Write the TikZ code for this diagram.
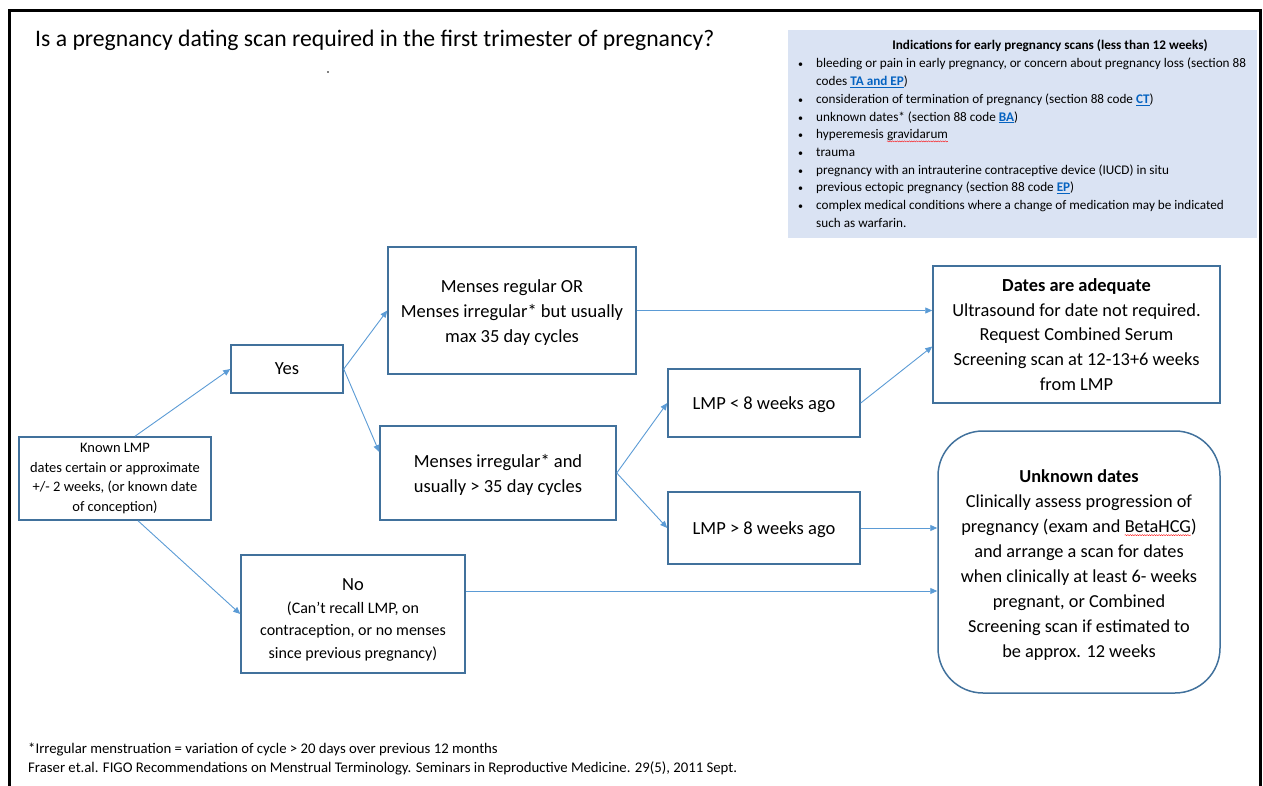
\documentclass[tikz,border=0pt]{standalone}
\usepackage{fontspec}
\setmainfont{Carlito}
\usetikzlibrary{arrows.meta,calc,decorations.pathmorphing}
\definecolor{boxblue}{HTML}{41719C}
\definecolor{arrblue}{HTML}{5B9BD5}
\definecolor{infofill}{HTML}{DAE3F3}
\definecolor{linkblue}{HTML}{0563C1}
\newcommand\lnk[1]{\textcolor{linkblue}{\underline{\textbf{#1}}}}
\newcommand\squig[1]{\tikz[baseline=(sq.base), sharp corners]{\node[draw=none, fill=none, inner sep=0pt, outer sep=0pt, minimum width=0pt, minimum height=0pt, sharp corners, align=left] (sq) {#1};
  \draw[red, sharp corners, line width=0.35pt, decorate, decoration={snake, amplitude=0.6pt, segment length=2.4pt}] ([yshift=-2.6pt]sq.base west) -- ([yshift=-2.6pt]sq.base east);}}
\newcommand\bul{{\fontsize{10}{10}\selectfont\textbullet}}
\tikzset{
  box/.style={draw=boxblue, line width=1.5pt, align=center, inner sep=0pt},
  conn/.style={draw=arrblue, line width=0.9pt, -{Triangle[length=7pt,width=6pt]}},
  big/.style={font=\fontsize{18.5}{25}\selectfont},
  plain/.style={inner sep=0pt, align=left},
}
\begin{document}
\begin{tikzpicture}[x=1pt,y=-1pt]
\useasboundingbox (0,0) rectangle (1263,786);
% frame
\draw[line width=3pt] (9.5,790) -- (9.5,11) -- (1260,11) -- (1260,790);
% title
\node[plain, anchor=base west, font=\fontsize{23.7}{28}\selectfont] (title) at (35,47)
  {Is a pregnancy dating scan required in the first trimester of pregnancy?};
\fill (328,72) circle (0.8pt);
% info box
\node[fill=infofill, minimum width=469pt, minimum height=208pt, inner sep=0pt] (info) at (1022.5,134) {};
\node[plain, anchor=base, font=\fontsize{13.2}{17.7}\selectfont\bfseries] (infotitle) at (1050,50)
  {Indications for early pregnancy scans (less than 12 weeks)};
\node[plain, anchor=base west, font=\fontsize{13.2}{17.7}\selectfont] (infolist) at (798,68)
  {\renewcommand\arraystretch{1}\begin{tabular}[t]{@{}p{18pt}@{}l@{}}
  \bul & bleeding or pain in early pregnancy, or concern about pregnancy loss (section 88\\
   & codes \lnk{TA and EP})\\
  \bul & consideration of termination of pregnancy (section 88 code \lnk{CT})\\
  \bul & unknown dates* (section 88 code \lnk{BA})\\
  \bul & hyperemesis \squig{gravidarum}\\
  \bul & trauma\\
  \bul & pregnancy with an intrauterine contraceptive device (IUCD) in situ\\
  \bul & previous ectopic pregnancy (section 88 code \lnk{EP})\\
  \bul & complex medical conditions where a change of medication may be indicated\\
   & such as warfarin.
  \end{tabular}};
% flow boxes
\node[box, minimum width=192pt, minimum height=83pt, font=\fontsize{14.5}{19.7}\selectfont] (lmp) at (115,478.5)
  {Known LMP\\dates certain or approximate\\+/- 2 weeks, (or known date\\of conception)};
\node[box, big, minimum width=112pt, minimum height=48pt] (yes) at (287,369) {Yes};
\node[box, big, minimum width=248pt, minimum height=127pt] (mreg) at (512,310.5)
  {\rule{0pt}{17pt}Menses regular OR\\Menses irregular* but usually\\max 35 day cycles};
\node[box, big, minimum width=236pt, minimum height=94pt] (mirr) at (498,473)
  {\rule{0pt}{17pt}Menses irregular* and\\usually > 35 day cycles};
\node[box, minimum width=224pt, minimum height=118pt, font=\fontsize{16}{22.5}\selectfont] (no) at (353,614)
  {{\fontsize{18.5}{22.5}\selectfont\rule{0pt}{24pt}No}\\(Can’t recall LMP, on\\contraception, or no menses\\since previous pregnancy)};
\node[box, big, minimum width=192pt, minimum height=68pt] (lt8) at (764,403) {\rule{0pt}{17pt}LMP < 8 weeks ago};
\node[box, big, minimum width=192pt, minimum height=72pt] (gt8) at (764,528) {\rule{0pt}{17pt}LMP > 8 weeks ago};
\node[box, minimum width=287pt, minimum height=137pt, font=\fontsize{18.4}{24.75}\selectfont] (adeq) at (1076.5,334.5)
  {\textbf{Dates are adequate}\\Ultrasound for date not required.\\Request Combined Serum\\Screening scan at 12-13+6 weeks\\from LMP};
\node[box, rounded corners=45pt, minimum width=282pt, minimum height=262pt, font=\fontsize{18.3}{25}\selectfont] (unk) at (1079,562)
  {\textbf{\rule{0pt}{19pt}Unknown dates}\\Clinically assess progression of\\pregnancy (exam and \squig{BetaHCG})\\and arrange a scan for dates\\when clinically at least 6- weeks\\pregnant, or Combined\\Screening scan if estimated to\\be approx. 12 weeks};
% connectors
\draw[conn] ([xshift=20pt]lmp.north) -- (yes.west);
\draw[conn] ([xshift=23pt]lmp.south) -- (no.west);
\draw[conn] (yes.east) -- (mreg.west);
\draw[conn] (yes.east) -- ([yshift=21pt]mirr.west);
\draw[conn] (mreg.east) -- (mreg.east -| adeq.west);
\draw[conn] (mirr.east) -- (lt8.west);
\draw[conn] (mirr.east) -- (gt8.west);
\draw[conn] (lt8.east) -- ([yshift=-12pt]adeq.west);
\draw[conn] (gt8.east) -- (gt8.east -| unk.west);
\draw[conn] ([yshift=23pt]no.east) -- ([yshift=23pt]no.east -| unk.west);
% footer
\node[plain, anchor=base west, font=\fontsize{14.75}{19}\selectfont] (foot) at (28,753)
  {\begin{tabular}[t]{@{}l@{}}
  *Irregular menstruation = variation of cycle > 20 days over previous 12 months\\
  Fraser et.al. FIGO Recommendations on Menstrual Terminology. Seminars in Reproductive Medicine. 29(5), 2011 Sept.
  \end{tabular}};
\end{tikzpicture}
\end{document}
